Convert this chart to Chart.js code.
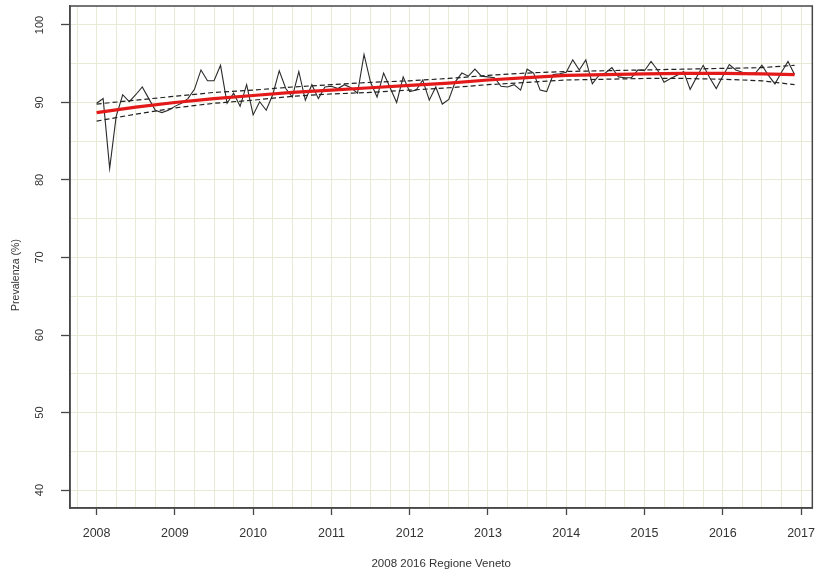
<!DOCTYPE html>
<html>
<head>
<meta charset="utf-8">
<script src="https://cdn.jsdelivr.net/npm/chart.js@4.4.1/dist/chart.umd.min.js"></script>
<style>
html,body{margin:0;padding:0;background:#fff;}
#c{display:block;}
</style>
</head>
<body>
<canvas id="c" width="826" height="573"></canvas>
<script>
// ---- data (monthly prevalence %, Jan..Dec) ----
const years = [2008, 2009, 2010, 2011, 2012, 2013, 2014, 2015, 2016];
const v2008 = [89.9, 90.5, 81.5, 88.2, 91.0, 90.1, 91.0, 92.0, 90.5, 89.0, 88.7, 89.0];
const v2009 = [89.5, 89.9, 90.5, 91.7, 94.2, 92.8, 92.8, 94.8, 89.9, 91.2, 89.5, 92.3];
const v2010 = [88.4, 90.1, 89.0, 91.0, 94.1, 91.8, 90.7, 94.0, 90.3, 92.3, 90.5, 92.0];
const v2011 = [92.1, 91.8, 92.3, 91.9, 91.2, 96.2, 92.6, 90.7, 93.8, 91.9, 90.0, 93.3];
const v2012 = [91.4, 91.6, 92.9, 90.3, 92.0, 89.8, 90.4, 92.7, 93.8, 93.4, 94.3, 93.4];
const v2013 = [93.3, 93.2, 92.1, 92.0, 92.3, 91.6, 94.3, 93.8, 91.6, 91.4, 93.6, 93.7];
const v2014 = [93.9, 95.5, 94.2, 95.5, 92.4, 93.5, 93.8, 94.5, 93.3, 93.2, 93.2, 94.2];
const v2015 = [94.1, 95.3, 94.2, 92.6, 93.1, 93.5, 94.0, 91.7, 93.3, 94.8, 93.2, 91.8];
const v2016 = [93.4, 94.9, 94.2, 93.9, 93.7, 93.8, 94.8, 93.5, 92.4, 93.9, 95.3, 93.6];
const monthly = [v2008, v2009, v2010, v2011, v2012, v2013, v2014, v2015, v2016];

// trend and confidence band (read at half-year points)
const bandX = [2008, 2008.5, 2009, 2009.5, 2010, 2010.5, 2011, 2011.5, 2012, 2012.5, 2013, 2013.5, 2014, 2014.5, 2015, 2015.5, 2016, 2016.5, 2016.917];
const trendY = [88.7, 89.4, 90.0, 90.5, 90.9, 91.3, 91.6, 91.9, 92.2, 92.5, 92.9, 93.2, 93.5, 93.6, 93.7, 93.75, 93.75, 93.7, 93.6];
const upperY = [89.8, 90.3, 90.8, 91.3, 91.6, 92.0, 92.3, 92.6, 92.8, 93.1, 93.5, 93.8, 94.0, 94.1, 94.2, 94.3, 94.4, 94.5, 94.8];
const lowerY = [87.6, 88.5, 89.3, 89.9, 90.3, 90.8, 91.1, 91.3, 91.6, 91.9, 92.3, 92.6, 92.9, 93.0, 93.1, 93.1, 93.0, 92.8, 92.3];

// axis ticks
const xTickYears = [2008, 2009, 2010, 2011, 2012, 2013, 2014, 2015, 2016, 2017];
const yTickLabels = [40, 50, 60, 70, 80, 90, 100];
const yGridValues = [40, 45, 50, 55, 60, 65, 70, 75, 80, 85, 90, 95, 100];
const xTitle = '2008 2016 Regione Veneto';
const yTitle = 'Prevalenza (%)';

// ---- build ----
const seriesPts = [];
years.forEach((yr, i) => monthly[i].forEach((v, m) => seriesPts.push({x: yr + m / 12, y: v})));
const toPts = arr => bandX.map((x, i) => ({x: x, y: arr[i]}));
const xGridValues = [];
for (let q = 2007 * 4 + 3; q <= 2017 * 4; q++) xGridValues.push(q / 4);
const isInt = v => Math.abs(v - Math.round(v)) < 1e-6;

const FONT = '"Liberation Sans", Arial, sans-serif';
const AXIS = '#474747';
const GRID = '#e8ead6';

const framePlugin = {
  id: 'framePlugin',
  afterDraw(chart) {
    const ctx = chart.ctx, a = chart.chartArea, ys = chart.scales.y;
    ctx.save();
    ctx.strokeStyle = AXIS;
    ctx.lineWidth = 1.5;
    ctx.strokeRect(a.left, a.top, a.right - a.left, a.bottom - a.top);
    ctx.fillStyle = '#333';
    ctx.textAlign = 'center';
    ctx.textBaseline = 'middle';
    ctx.font = '11px ' + FONT;
    yTickLabels.forEach(v => {
      ctx.save();
      ctx.translate(a.left - 30, ys.getPixelForValue(v));
      ctx.rotate(-Math.PI / 2);
      ctx.fillText(String(v), 0, 0);
      ctx.restore();
    });
    ctx.save();
    ctx.font = '10.5px ' + FONT;
    ctx.translate(16, 275);
    ctx.rotate(-Math.PI / 2);
    ctx.fillText(yTitle, 0, 0);
    ctx.restore();
    ctx.font = '11.5px ' + FONT;
    ctx.fillText(xTitle, (a.left + a.right) / 2, 564);
    ctx.restore();
  }
};

new Chart(document.getElementById('c'), {
  type: 'line',
  data: {
    datasets: [
      {label: 'trend', data: toPts(trendY), borderColor: '#e41a1a', borderWidth: 3.2, pointRadius: 0, tension: 0, order: 0},
      {label: 'upper', data: toPts(upperY), borderColor: '#222', borderWidth: 1.2, borderDash: [5, 3], pointRadius: 0, tension: 0, order: 1},
      {label: 'lower', data: toPts(lowerY), borderColor: '#222', borderWidth: 1.2, borderDash: [5, 3], pointRadius: 0, tension: 0, order: 1},
      {label: 'monthly', data: seriesPts, borderColor: '#2b2b2b', borderWidth: 1.1, pointRadius: 0, tension: 0, order: 2}
    ]
  },
  options: {
    responsive: false,
    animation: false,
    layout: {padding: {top: 6, right: 3, left: 0, bottom: 0}},
    plugins: {legend: {display: false}, tooltip: {enabled: false}},
    scales: {
      x: {
        type: 'linear',
        min: 2007.66,
        max: 2017.144,
        afterBuildTicks: s => { s.ticks = xGridValues.map(v => ({value: v})); },
        afterFit: s => { s.height = 65; },
        border: {color: AXIS, width: 1.5},
        grid: {
          color: GRID, lineWidth: 1, drawTicks: true, tickLength: 7,
          tickColor: c => (c.tick && xTickYears.some(t => Math.abs(t - c.tick.value) < 1e-6)) ? AXIS : 'rgba(0,0,0,0)',
          tickWidth: 1.3
        },
        ticks: {
          autoSkip: false, maxRotation: 0, minRotation: 0, padding: 11,
          color: '#333', font: {family: FONT, size: 12.5},
          callback: v => isInt(v) ? String(Math.round(v)) : ''
        }
      },
      y: {
        type: 'linear',
        min: 37.68,
        max: 102.45,
        afterBuildTicks: s => { s.ticks = yGridValues.map(v => ({value: v})); },
        afterFit: s => { s.width = 70; },
        border: {color: AXIS, width: 1.5},
        grid: {
          color: GRID, lineWidth: 1, drawTicks: true, tickLength: 9,
          tickColor: c => (c.tick && yTickLabels.includes(c.tick.value)) ? AXIS : 'rgba(0,0,0,0)',
          tickWidth: 1.3
        },
        ticks: {display: false}
      }
    }
  },
  plugins: [framePlugin]
});
</script>
</body>
</html>
